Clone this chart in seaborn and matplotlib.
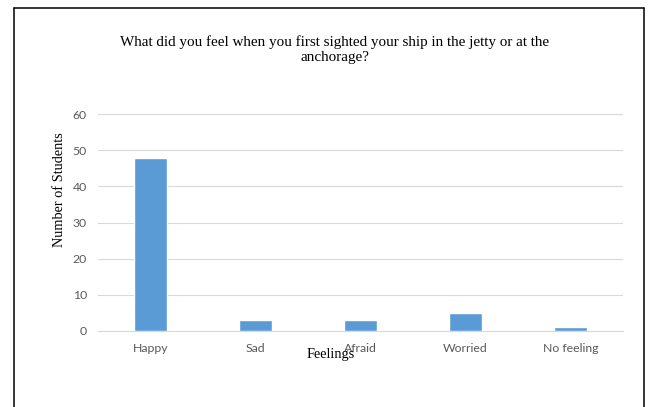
import matplotlib
matplotlib.use("Agg")
import matplotlib.pyplot as plt
import seaborn as sns
import pandas as pd
from matplotlib.lines import Line2D

feelings = ["Happy", "Sad", "Afraid", "Worried", "No feeling"]
students = [48, 3, 3, 5, 1]
y_ticks = [0, 10, 20, 30, 40, 50, 60]

df = pd.DataFrame({"Feelings": feelings, "Students": students})

sns.set_theme(style="white")
plt.rcParams["font.family"] = ["Lato", "DejaVu Sans"]

fig = plt.figure(figsize=(6.53, 4.07), dpi=100)
ax = fig.add_axes([0.150, 0.1875, 0.804, 0.5315])

sns.barplot(data=df, x="Feelings", y="Students", color="#5B9BD5",
            width=0.314, saturation=1, ax=ax, zorder=3)

ax.set_xlim(-0.5, len(feelings) - 0.5)
ax.set_ylim(0, 60)
ax.set_yticks(y_ticks)
ax.yaxis.grid(True, color="#D9D9D9", linewidth=0.8, zorder=0)
ax.xaxis.grid(False)
for side in ["top", "right", "left"]:
    ax.spines[side].set_visible(False)
ax.spines["bottom"].set_color("#D9D9D9")
ax.spines["bottom"].set_linewidth(0.8)
ax.tick_params(axis="both", length=0, labelsize=8.8, labelcolor="#595959")
ax.tick_params(axis="y", pad=8)
ax.tick_params(axis="x", pad=9)

ax.set_xlabel("")
ax.set_ylabel("")

serif = ["Liberation Serif", "DejaVu Serif"]
fig.text(0.513, 0.879,
         "What did you feel when you first sighted your ship in the jetty or at the\nanchorage?",
         ha="center", va="center", fontsize=10.9, family=serif, linespacing=1.2,
         color="black")
fig.text(0.091, 0.533, "Number of Students", rotation=90, ha="center", va="center",
         fontsize=10.3, family=serif, color="black")
fig.text(0.507, 0.128, "Feelings", ha="center", va="center",
         fontsize=10.3, family=serif, color="black")

# frame around the chart area (open at the bottom)
W, H = 653, 407
xl, xr, yt = 14 / W, 644 / W, 1 - 7.5 / H
for xs, ys in [([xl, xl], [0, yt]), ([xl, xr], [yt, yt]), ([xr, xr], [yt, 0])]:
    fig.add_artist(Line2D(xs, ys, color="black", linewidth=1.1,
                          transform=fig.transFigure))

fig.savefig("out.png", dpi=100)
